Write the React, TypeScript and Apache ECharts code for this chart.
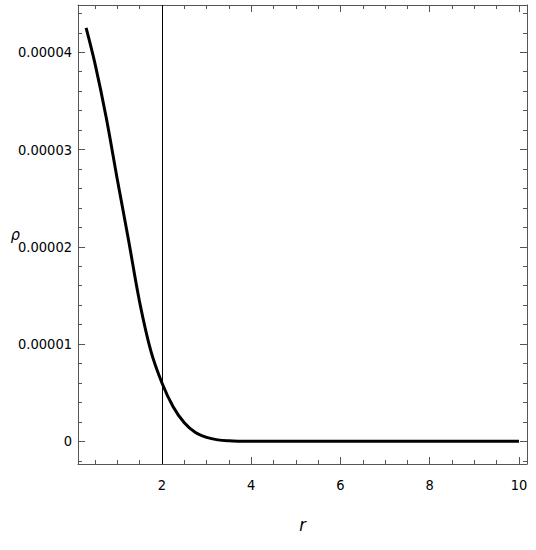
import React, { useEffect, useRef } from "react";
import * as echarts from "echarts";

// r values and density values
const rValues = [0.3, 0.5, 0.75, 1, 1.25, 1.5, 1.75, 2, 2.25, 2.5, 2.75, 3, 3.25, 3.5, 3.75, 4, 4.5, 5, 6, 7, 8, 9, 10];
const rhoValues = [
  4.25e-5, 3.88e-5, 3.33e-5, 2.69e-5, 2.07e-5, 1.43e-5, 0.93e-5, 0.6e-5, 0.355e-5, 0.19e-5, 0.09e-5,
  0.04e-5, 0.015e-5, 0.005e-5, 0.0015e-5, 0.0004e-5, 0, 0, 0, 0, 0, 0, 0,
];
const markerR = 2;

const xMajorTicks = [2, 4, 6, 8, 10];
const xMinorTicks = [0.5, 1, 1.5, 2.5, 3, 3.5, 4.5, 5, 5.5, 6.5, 7, 7.5, 8.5, 9, 9.5];
const yMajorTicks = [0, 1e-5, 2e-5, 3e-5, 4e-5];
const yMinorTicks = [
  -0.2e-5, 0.2e-5, 0.4e-5, 0.6e-5, 0.8e-5, 1.2e-5, 1.4e-5, 1.6e-5, 1.8e-5, 2.2e-5, 2.4e-5, 2.6e-5, 2.8e-5,
  3.2e-5, 3.4e-5, 3.6e-5, 3.8e-5, 4.2e-5, 4.4e-5,
];

const X_MIN = 0.118;
const X_MAX = 10.18;
const Y_MIN = -0.233e-5;
const Y_MAX = 4.486e-5;

const FRAME = "#555";
const FONT = "'Liberation Sans Narrow', 'DejaVu Sans Condensed', 'Liberation Sans', sans-serif";

function xAxisDef(position: "top" | "bottom", ticks: number[], len: number, line: boolean, labels: boolean) {
  return {
    type: "value",
    min: X_MIN,
    max: X_MAX,
    position,
    axisLine: { show: line, onZero: false, lineStyle: { color: FRAME, width: 1 } },
    axisTick: { show: true, inside: true, length: len, customValues: ticks, lineStyle: { color: FRAME, width: 1 } },
    axisLabel: labels
      ? { show: true, customValues: ticks, margin: 13, fontSize: 14.5, color: "#000", fontFamily: FONT }
      : { show: false },
    splitLine: { show: false },
  };
}

function yAxisDef(position: "left" | "right", ticks: number[], len: number, line: boolean, labels: boolean) {
  return {
    type: "value",
    min: Y_MIN,
    max: Y_MAX,
    position,
    axisLine: { show: line, onZero: false, lineStyle: { color: FRAME, width: 1 } },
    axisTick: { show: true, inside: true, length: len, customValues: ticks, lineStyle: { color: FRAME, width: 1 } },
    axisLabel: labels
      ? {
          show: true,
          customValues: ticks,
          margin: 6,
          fontSize: 14.5,
          color: "#000",
          fontFamily: FONT,
          formatter: (v: number) => (Math.abs(v) < 1e-12 ? "0" : v.toFixed(5)),
        }
      : { show: false },
    splitLine: { show: false },
  };
}

export default function App() {
  const ref = useRef<HTMLDivElement>(null);
  useEffect(() => {
    document.body.style.margin = "0";
    if (!ref.current) return;
    const chart = echarts.init(ref.current, undefined, { renderer: "svg" });
    const xA: any[] = [
      { ...xAxisDef("bottom", xMajorTicks, 7, true, true), name: "r", nameLocation: "middle", nameGap: 51,
        nameMoveOverlap: false,
        nameTextStyle: { fontSize: 18, fontStyle: "italic", color: "#000", fontFamily: FONT } },
      xAxisDef("bottom", xMinorTicks, 4, false, false),
      xAxisDef("top", xMajorTicks, 7, true, false),
      xAxisDef("top", xMinorTicks, 4, false, false),
    ];
    const yA: any[] = [
      { ...yAxisDef("left", yMajorTicks, 7, true, true), name: "ρ", nameLocation: "middle", nameGap: 58, nameRotate: 0,
        nameMoveOverlap: false,
        nameTextStyle: { fontSize: 16, fontStyle: "italic", color: "#000", fontFamily: FONT, padding: [0, 0, 8, 0] } },
      yAxisDef("left", yMinorTicks, 4, false, false),
      yAxisDef("right", yMajorTicks, 7, true, false),
      yAxisDef("right", yMinorTicks, 4, false, false),
    ];
    chart.setOption({
      animation: false,
      backgroundColor: "#fff",
      grid: { left: 78, top: 5, width: 449, height: 459, containLabel: false },
      xAxis: xA,
      yAxis: yA,
      series: [
        {
          type: "line",
          xAxisIndex: 0,
          yAxisIndex: 0,
          data: rValues.map((r, i) => [r, rhoValues[i]]),
          showSymbol: false,
          symbol: "none",
          smooth: 0.35,
          lineStyle: { color: "#000", width: 3 },
          z: 3,
          markLine: {
            silent: true,
            symbol: "none",
            label: { show: false },
            lineStyle: { color: "#000", width: 1, type: "solid" },
            data: [{ xAxis: markerR }],
            z: 2,
          },
        },
      ],
    });
    return () => chart.dispose();
  }, []);
  return <div ref={ref} style={{ width: 536, height: 550 }} />;
}
